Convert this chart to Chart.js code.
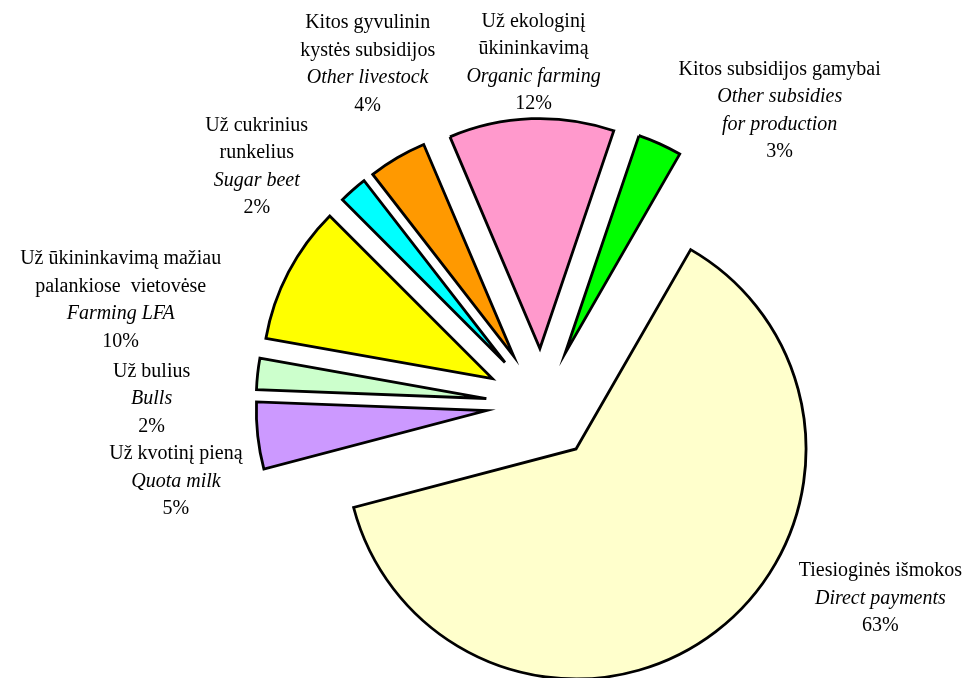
<!DOCTYPE html>
<html>
<head>
<meta charset="utf-8">
<script src="https://cdn.jsdelivr.net/npm/chart.js@4.4.1/dist/chart.umd.min.js"></script>
<style>
  html, body { margin: 0; padding: 0; background: #ffffff; }
  canvas { display: block; }
</style>
</head>
<body>
<canvas id="chart" width="974" height="678"></canvas>
<script>
// ---- data ----
const namesLt = [
  ["Tiesioginės išmokos"],
  ["Už kvotinį pieną"],
  ["Už bulius"],
  ["Už ūkininkavimą mažiau", "palankiose  vietovėse"],
  ["Už cukrinius", "runkelius"],
  ["Kitos gyvulinin", "kystės subsidijos"],
  ["Už ekologinį", "ūkininkavimą"],
  ["Kitos subsidijos gamybai"]
];
const namesEn = [
  ["Direct payments"],
  ["Quota milk"],
  ["Bulls"],
  ["Farming LFA"],
  ["Sugar beet"],
  ["Other livestock"],
  ["Organic farming"],
  ["Other subsidies", "for production"]
];
const shares = [62.6, 4.7, 2.2, 9.7, 2.0, 4.1, 11.6, 3.1];

// ---- styles / layout ----
const sliceColors = ["#FFFFCC", "#CC99FF", "#CCFFCC", "#FFFF00", "#00FFFF", "#FF9900", "#FF99CC", "#00FF00"];
const EXPLODE = 56;
const LINE_H = 27.5;
const FONT_FAMILY = '"Liberation Serif", "Times New Roman", serif';
const labelDx = [164.6, -81.8, -106, -167.8, -96.2, -29.6, 2.2, 119.9];
const labelDy = [-55.6, 23.6, 2.6, -7.7, -59.4, -129.6, -92, -69];

// explode every slice along its mid angle (pure translation, no resizing)
const explodePlugin = {
  id: 'explodeSlices',
  beforeDatasetDraw(chart, args) {
    chart.ctx.save();
    chart.ctx.miterLimit = 14;
    args.meta.data.forEach(a => {
      const m = (a.startAngle + a.endAngle) / 2;
      a.x += Math.cos(m) * EXPLODE;
      a.y += Math.sin(m) * EXPLODE;
    });
  },
  afterDatasetDraw(chart, args) {
    args.meta.data.forEach(a => {
      const m = (a.startAngle + a.endAngle) / 2;
      a.x -= Math.cos(m) * EXPLODE;
      a.y -= Math.sin(m) * EXPLODE;
    });
    chart.ctx.restore();
  }
};

const labelPlugin = {
  id: 'sliceLabels',
  afterDatasetsDraw(chart) {
    const ctx = chart.ctx;
    const arcs = chart.getDatasetMeta(0).data;
    const total = shares.reduce((s, v) => s + v, 0);
    ctx.save();
    ctx.fillStyle = '#000000';
    ctx.textAlign = 'center';
    ctx.textBaseline = 'alphabetic';
    arcs.forEach((a, i) => {
      const m = (a.startAngle + a.endAngle) / 2;
      const r = EXPLODE + a.outerRadius;
      const x = a.x + Math.cos(m) * r + labelDx[i];
      const y = a.y + Math.sin(m) * r + labelDy[i];
      const lines = [];
      namesLt[i].forEach(t => lines.push([t, 'normal']));
      namesEn[i].forEach(t => lines.push([t, 'italic']));
      lines.push([Math.round(shares[i] / total * 100) + '%', 'normal']);
      lines.forEach((ln, k) => {
        ctx.font = ln[1] + ' 20px ' + FONT_FAMILY;
        ctx.fillText(ln[0], x, y + k * LINE_H);
      });
    });
    ctx.restore();
  }
};

new Chart(document.getElementById('chart'), {
  type: 'pie',
  data: {
    labels: namesEn.map(n => n.join(' ')),
    datasets: [{
      data: shares,
      backgroundColor: sliceColors,
      borderColor: '#000000',
      borderWidth: 2.8,
      borderJoinStyle: 'miter'
    }]
  },
  options: {
    responsive: false,
    animation: false,
    rotation: 29.9,
    radius: 230,
    layout: { padding: { left: 110, right: 0, top: 131, bottom: 0 } },
    plugins: {
      legend: { display: false },
      tooltip: { enabled: false }
    }
  },
  plugins: [explodePlugin, labelPlugin]
});
</script>
</body>
</html>
